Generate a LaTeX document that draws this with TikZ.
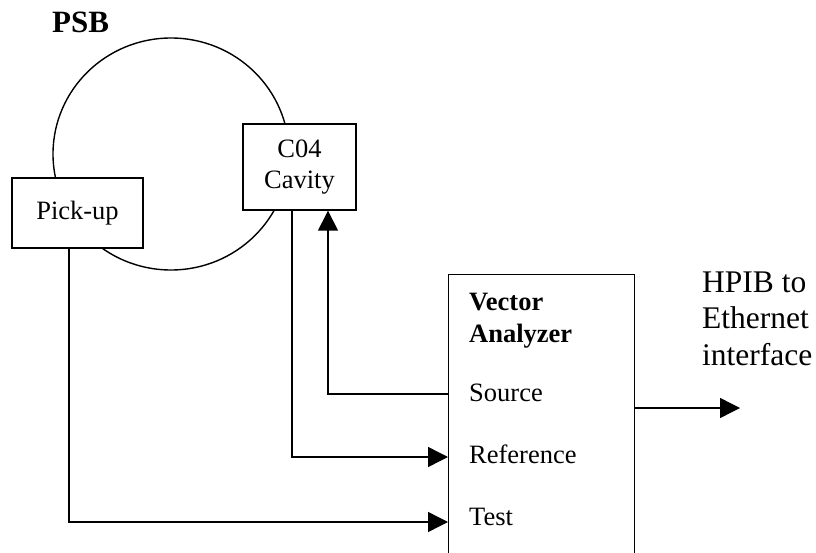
\documentclass[tikz,border=0pt]{standalone}
\usepackage{fontspec}
\setmainfont{Liberation Serif}
\usetikzlibrary{arrows.meta,shapes.geometric}
\tikzset{
  ln/.style={line width=1.4pt},
  arr/.style={ln,-{Triangle[length=20pt,width=20pt]}},
  box/.style={draw,ln,fill=white,inner sep=0pt,align=center,font=\fontsize{26.5}{31}\selectfont},
  lbl/.style={inner sep=0pt,anchor=base west,font=\fontsize{26.5}{31}\selectfont},
}
\begin{document}
\begin{tikzpicture}[x=1pt,y=-1pt]
\useasboundingbox (0,0) rectangle (816,553);
\clip (0,0) rectangle (816,553);
% ring
\node[ellipse,draw,ln,minimum width=236pt,minimum height=232pt,inner sep=0pt] (ring) at (171,154) {};
\node[inner sep=0pt,anchor=base west,font=\fontsize{31}{36}\selectfont\bfseries] (psb) at (52,33) {PSB};
% boxes
\node[box,minimum width=131pt,minimum height=70pt] (pick) at (77.5,213) {Pick-up};
\node[box,minimum width=113pt,minimum height=86pt] (cav) at (299.5,167) {C04\\Cavity};
\node[box,fill=none,minimum width=186pt,minimum height=340pt,anchor=north west] (va) at (448,274) {};
% labels in analyzer
\node[lbl,font=\fontsize{26.5}{31}\selectfont\bfseries] (vec) at (469,310) {Vector};
\node[lbl,font=\fontsize{26.5}{31}\selectfont\bfseries] (ana) at (469,342) {Analyzer};
\node[lbl] (src) at (469,401) {Source};
\node[lbl] (ref) at (469,463) {Reference};
\node[lbl] (tst) at (469,525) {Test};
% HPIB
\node[inner sep=0pt,anchor=base west,font=\fontsize{31.5}{36}\selectfont] (h1) at (702,292) {HPIB to};
\node[inner sep=0pt,anchor=base west,font=\fontsize{31.5}{36}\selectfont] (h2) at (702,328) {Ethernet};
\node[inner sep=0pt,anchor=base west,font=\fontsize{31.5}{36}\selectfont] (h3) at (702,365) {interface};
% ports
\coordinate (sp) at (448,394);
\coordinate (rp) at (448,457);
\coordinate (tp) at (448,522);
\coordinate (op) at (634,408);
\coordinate (out) at (740,408);
% connectors
\draw[arr] ([xshift=-8.5pt]pick.south) |- (tp);
\draw[arr] ([xshift=-7.5pt]cav.south) |- (rp);
\draw[arr] (sp) -| ([xshift=28.5pt]cav.south);
\draw[arr] (op) -- (out);
\end{tikzpicture}
\end{document}
